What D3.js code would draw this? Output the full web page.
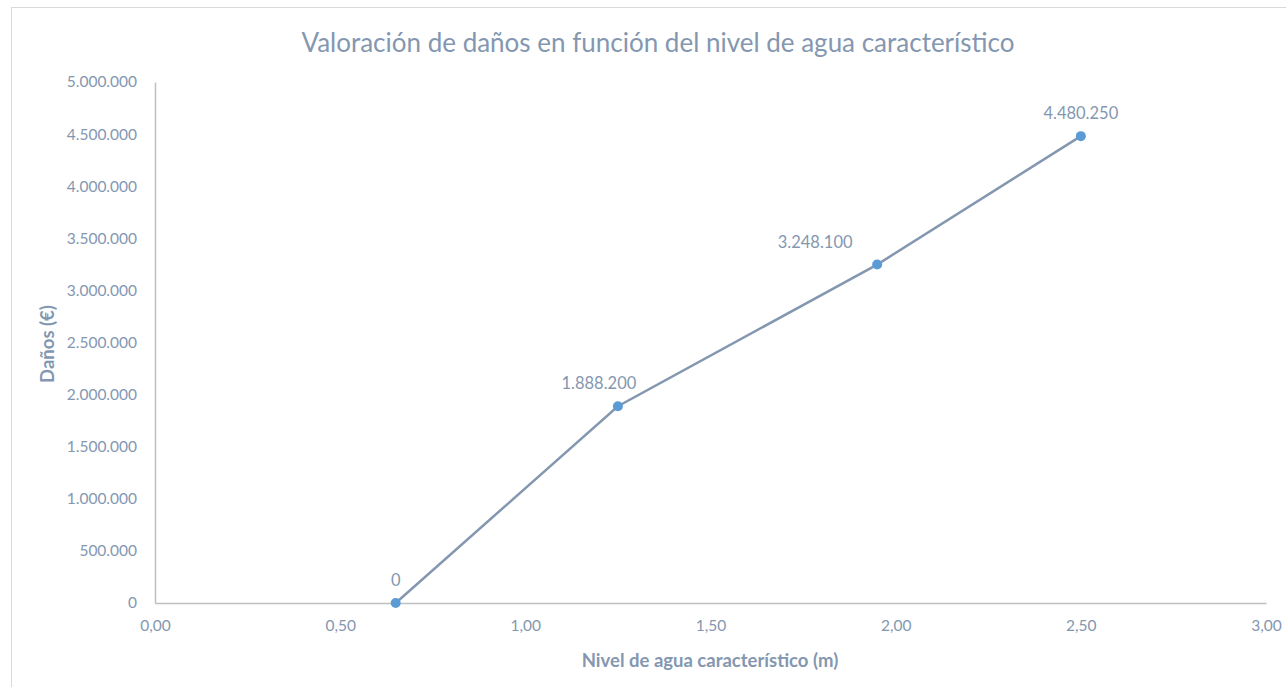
<!DOCTYPE html>
<html>
<head>
<meta charset="utf-8">
<script src="https://cdn.jsdelivr.net/npm/d3@7"></script>
<style>
  html, body { margin: 0; padding: 0; background: #fff; }
  svg { display: block; }
  text { font-family: Lato, "Open Sans", sans-serif; }
</style>
</head>
<body>
<svg id="chart" width="1286" height="687"></svg>
<script>
// Water level (m) against damage valuation (€)
const levels = [0.65, 1.25, 1.95, 2.50];
const damages = [0, 1888200, 3248100, 4480250];
const xTicks = [0, 0.5, 1, 1.5, 2, 2.5, 3];
const yTicks = [0, 500000, 1000000, 1500000, 2000000, 2500000, 3000000, 3500000, 4000000, 4500000, 5000000];

// Horizontal nudge of each value label relative to its point
const labelShift = [0, -19, -62, 0];

const title = "Valoración de daños en función del nivel de agua característico";
const xTitle = "Nivel de agua característico (m)";
const yTitle = "Daños (€)";

const textColor = "#8497b0";
const lineColor = "#8497b0";
const markerColor = "#5b9bd5";
const axisColor = "#bfbfbf";

const svg = d3.select("#chart");

// Chart frame
svg.append("rect")
  .attr("x", 11.5).attr("y", 7.5)
  .attr("width", 1286).attr("height", 700)
  .attr("fill", "none").attr("stroke", "#d9d9d9").attr("stroke-width", 1);

const x = d3.scaleLinear().domain([0, 3]).range([155, 1266]);
const y = d3.scaleLinear().domain([0, 5000000]).range([603, 82]);

const fmtNum = d3.formatLocale({ decimal: ",", thousands: ".", grouping: [3], currency: ["", " €"] });
const fmtY = fmtNum.format(",.0f");
const fmtX = fmtNum.format(".2f");

// Title
svg.append("text")
  .attr("x", 658).attr("y", 52)
  .attr("text-anchor", "middle")
  .attr("font-size", 26)
  .attr("fill", textColor)
  .text(title);

// Y axis
const yAxis = svg.append("g")
  .attr("transform", `translate(${x(0)},0)`)
  .call(d3.axisLeft(y).tickValues(yTicks).tickFormat(fmtY).tickSize(0).tickPadding(18));
yAxis.select(".domain").attr("stroke", axisColor).attr("stroke-width", 1.5);
yAxis.selectAll("text").attr("fill", textColor).attr("font-size", 15.5).attr("font-family", "Lato, sans-serif");

// X axis
const xAxis = svg.append("g")
  .attr("transform", `translate(0,${y(0)})`)
  .call(d3.axisBottom(x).tickValues(xTicks).tickFormat(fmtX).tickSize(0).tickPadding(17));
xAxis.select(".domain").attr("stroke", axisColor).attr("stroke-width", 1.5);
xAxis.selectAll("text").attr("fill", textColor).attr("font-size", 15.5).attr("font-family", "Lato, sans-serif");

// Axis titles
svg.append("text")
  .attr("x", 710).attr("y", 667)
  .attr("text-anchor", "middle")
  .attr("font-size", 18.5).attr("font-weight", "bold")
  .attr("fill", textColor)
  .text(xTitle);

svg.append("text")
  .attr("transform", `translate(54,344) rotate(-90)`)
  .attr("text-anchor", "middle")
  .attr("font-size", 18.5).attr("font-weight", "bold")
  .attr("fill", textColor)
  .text(yTitle);

const pts = levels.map((l, i) => ({ x: l, y: damages[i], dx: labelShift[i] }));

// Series line
svg.append("path")
  .datum(pts)
  .attr("fill", "none")
  .attr("stroke", lineColor)
  .attr("stroke-width", 2.5)
  .attr("d", d3.line().x(d => x(d.x)).y(d => y(d.y)));

// Markers
svg.selectAll("circle.pt")
  .data(pts)
  .join("circle")
  .attr("class", "pt")
  .attr("cx", d => x(d.x)).attr("cy", d => y(d.y))
  .attr("r", 5)
  .attr("fill", markerColor);

// Value labels
svg.selectAll("text.val")
  .data(pts)
  .join("text")
  .attr("class", "val")
  .attr("x", d => x(d.x) + d.dx)
  .attr("y", d => y(d.y) - 17)
  .attr("text-anchor", "middle")
  .attr("font-size", 16.5)
  .attr("fill", textColor)
  .text(d => fmtY(d.y));
</script>
</body>
</html>
